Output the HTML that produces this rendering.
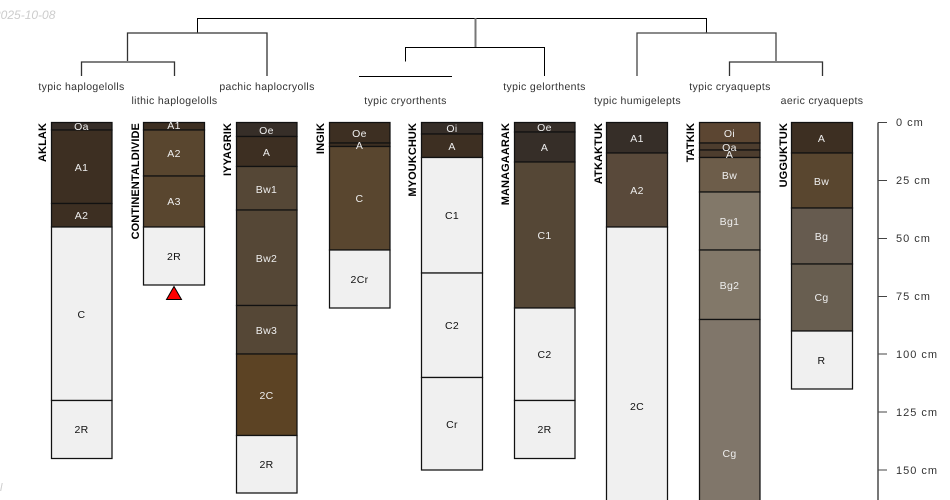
<!DOCTYPE html>
<html><head><meta charset="utf-8"><style>
html,body{margin:0;padding:0;background:#fff}
svg{display:block}
text{font-family:"Liberation Sans",sans-serif;font-size:10.5px}
.h text,text.w{fill:#eee;text-anchor:middle;letter-spacing:.35px}
text.k{fill:#111;text-anchor:middle;letter-spacing:.35px}
text.n{font-weight:bold;font-size:11px;letter-spacing:.1px;fill:#000;text-anchor:end}
text.t{fill:#333;text-anchor:middle;letter-spacing:.35px}
text.a{fill:#333;font-size:11px;letter-spacing:1px}
rect{stroke:#111;stroke-width:1.25}
path{fill:none;stroke:#000;stroke-width:1}
</style></head><body>
<svg xmlns="http://www.w3.org/2000/svg" width="950" height="500" viewBox="0 0 950 500">
<text x="-6" y="19" style="font-style:italic;fill:#ccc;font-size:12px">2025-10-08</text>
<text x="0" y="491" style="font-style:italic;fill:#ccc;font-size:11px">l</text>

<path d="M197.5 32V18.5H706.5V32"/>
<path d="M475.5 18V47" style="stroke:#777;stroke-width:2"/>
<path d="M127.5 61V33H267V76" style="stroke:#333;stroke-width:1.3"/>
<path d="M197.5 32V33" style="stroke:#333"/>
<path d="M81.5 76V62H174.5V76" style="stroke:#333;stroke-width:1.3"/>
<path d="M405.5 61.5V47.5H544.5V76"/>
<path d="M359 76.5H452"/>
<path d="M706.5 32V33M637 76V33H776V61" style="stroke:#444;stroke-width:1.3"/>
<path d="M729.5 76V62H822.5V76" style="stroke:#333;stroke-width:1.3"/>

<g text-rendering="geometricPrecision">
<text class="t" x="81.5" y="90">typic haplogelolls</text>
<text class="t" x="174.5" y="104">lithic haplogelolls</text>
<text class="t" x="267" y="90">pachic haplocryolls</text>
<text class="t" x="405.5" y="104">typic cryorthents</text>
<text class="t" x="544.5" y="90">typic gelorthents</text>
<text class="t" x="637.5" y="104">typic humigelepts</text>
<text class="t" x="730" y="90">typic cryaquepts</text>
<text class="t" x="822" y="104">aeric cryaquepts</text>
</g>

<!-- AKLAK -->
<text class="n" transform="translate(46,123) rotate(-90)">AKLAK</text>
<g class="h">
<rect x="51.5" y="122.5" width="60.5" height="7.5" fill="#362e28"/>
<rect x="51.5" y="130" width="60.5" height="73.5" fill="#3d2f22"/>
<rect x="51.5" y="203.5" width="60.5" height="23.5" fill="#3d2f22"/>
<rect x="51.5" y="227" width="60.5" height="173.5" fill="#f0f0f0"/>
<rect x="51.5" y="400.5" width="60.5" height="58" fill="#f0f0f0"/>
<text x="81.5" y="130">Oa</text><text x="81.5" y="171">A1</text><text x="81.5" y="219">A2</text>
</g>
<text class="k" x="81.5" y="318">C</text><text class="k" x="81.5" y="433">2R</text>

<!-- CONTINENTALDIVIDE -->
<text class="n" transform="translate(139,123) rotate(-90)">CONTINENTALDIVIDE</text>
<g class="h">
<rect x="143.5" y="122.5" width="61" height="7.5" fill="#3d2f22"/>
<rect x="143.5" y="130" width="61" height="46" fill="#59462f"/>
<rect x="143.5" y="176" width="61" height="51" fill="#59462f"/>
<rect x="143.5" y="227" width="61" height="58" fill="#f0f0f0"/>
<text x="174" y="129">A1</text><text x="174" y="157">A2</text><text x="174" y="205">A3</text>
</g>
<text class="k" x="174" y="260">2R</text>
<path d="M166.5 299.5L174 286.5L181.5 299.5Z" style="fill:#f00"/>

<!-- IYYAGRIK -->
<text class="n" transform="translate(231,123) rotate(-90)">IYYAGRIK</text>
<g class="h">
<rect x="236.5" y="122.5" width="60.5" height="14" fill="#362e28"/>
<rect x="236.5" y="136.5" width="60.5" height="30" fill="#3d2f22"/>
<rect x="236.5" y="166.5" width="60.5" height="43.5" fill="#554736"/>
<rect x="236.5" y="210" width="60.5" height="95.5" fill="#554736"/>
<rect x="236.5" y="305.5" width="60.5" height="48.5" fill="#554736"/>
<rect x="236.5" y="354" width="60.5" height="81.5" fill="#5c4324"/>
<rect x="236.5" y="435.5" width="60.5" height="57.5" fill="#f0f0f0"/>
<text x="266.5" y="134">Oe</text><text x="266.5" y="156">A</text><text x="266.5" y="193">Bw1</text><text x="266.5" y="262">Bw2</text><text x="266.5" y="334">Bw3</text><text x="266.5" y="399">2C</text>
</g>
<text class="k" x="266.5" y="468">2R</text>

<!-- INGIK -->
<text class="n" transform="translate(324,123) rotate(-90)">INGIK</text>
<g class="h">
<rect x="329.5" y="122.5" width="60.5" height="20.5" fill="#3d2f22"/>
<rect x="329.5" y="143" width="60.5" height="3.5" fill="#3d2f22"/>
<rect x="329.5" y="146.5" width="60.5" height="103.5" fill="#59462f"/>
<rect x="329.5" y="250" width="60.5" height="58" fill="#f0f0f0"/>
<text x="359.5" y="137">Oe</text><text x="359.5" y="149">A</text><text x="359.5" y="202">C</text>
</g>
<text class="k" x="359.5" y="283">2Cr</text>

<!-- MYOUKCHUK -->
<text class="n" transform="translate(416,123) rotate(-90)">MYOUKCHUK</text>
<g class="h">
<rect x="421.5" y="122.5" width="61" height="11.5" fill="#362e28"/>
<rect x="421.5" y="134" width="61" height="23.5" fill="#3d2f22"/>
<rect x="421.5" y="157.5" width="61" height="115.5" fill="#f0f0f0"/>
<rect x="421.5" y="273" width="61" height="104.5" fill="#f0f0f0"/>
<rect x="421.5" y="377.5" width="61" height="92.5" fill="#f0f0f0"/>
<text x="452" y="132">Oi</text><text x="452" y="150">A</text>
</g>
<text class="k" x="452" y="219">C1</text><text class="k" x="452" y="329">C2</text><text class="k" x="452" y="428">Cr</text>

<!-- MANAGAARAK -->
<text class="n" transform="translate(509,123) rotate(-90)">MANAGAARAK</text>
<g class="h">
<rect x="514.5" y="122.5" width="60.5" height="9.5" fill="#362e28"/>
<rect x="514.5" y="132" width="60.5" height="30" fill="#362e28"/>
<rect x="514.5" y="162" width="60.5" height="146" fill="#554736"/>
<rect x="514.5" y="308" width="60.5" height="92.5" fill="#f0f0f0"/>
<rect x="514.5" y="400.5" width="60.5" height="58" fill="#f0f0f0"/>
<text x="544.5" y="131">Oe</text><text x="544.5" y="151">A</text><text x="544.5" y="239">C1</text>
</g>
<text class="k" x="544.5" y="358">C2</text><text class="k" x="544.5" y="433">2R</text>

<!-- ATKAKTUK -->
<text class="n" transform="translate(602,123) rotate(-90)">ATKAKTUK</text>
<g class="h">
<rect x="606.5" y="122.5" width="61" height="30.5" fill="#362e28"/>
<rect x="606.5" y="153" width="61" height="74" fill="#59493a"/>
<rect x="606.5" y="227" width="61" height="290" fill="#f0f0f0"/>
<text x="637" y="142">A1</text><text x="637" y="194">A2</text>
</g>
<text class="k" x="637" y="410">2C</text>

<!-- TATKIK -->
<text class="n" transform="translate(694,123) rotate(-90)">TATKIK</text>
<g class="h">
<rect x="699.5" y="122.5" width="60.5" height="20.5" fill="#5c4632"/>
<rect x="699.5" y="143" width="60.5" height="7" fill="#4d3d2e"/>
<rect x="699.5" y="150" width="60.5" height="7.5" fill="#4d3d2e"/>
<rect x="699.5" y="157.5" width="60.5" height="34.5" fill="#6d5d4a"/>
<rect x="699.5" y="192" width="60.5" height="58" fill="#827869"/>
<rect x="699.5" y="250" width="60.5" height="69.5" fill="#827869"/>
<rect x="699.5" y="319.5" width="60.5" height="200" fill="#80766a"/>
<text x="729.5" y="137">Oi</text><text x="729.5" y="151">Oa</text><text x="729.5" y="158">A</text><text x="729.5" y="179">Bw</text><text x="729.5" y="225">Bg1</text><text x="729.5" y="289">Bg2</text><text x="729.5" y="457">Cg</text>
</g>

<!-- UGGUKTUK -->
<text class="n" transform="translate(787,123) rotate(-90)">UGGUKTUK</text>
<g class="h">
<rect x="791.5" y="122.5" width="61" height="30.5" fill="#3d2f22"/>
<rect x="791.5" y="153" width="61" height="55" fill="#59462f"/>
<rect x="791.5" y="208" width="61" height="56" fill="#665b4f"/>
<rect x="791.5" y="264" width="61" height="67" fill="#685e50"/>
<rect x="791.5" y="331" width="61" height="58" fill="#f0f0f0"/>
<text x="821.5" y="142">A</text><text x="821.5" y="185">Bw</text><text x="821.5" y="240">Bg</text><text x="821.5" y="301">Cg</text>
</g>
<text class="k" x="821.5" y="364">R</text>

<!-- Axis -->
<path d="M878 122.5V500" style="stroke:#777;stroke-width:2"/>
<path d="M878 122.5H887M878 180.5H887M878 238.5H887M878 296.5H887M878 354H887M878 412H887M878 470H887" style="stroke:#444"/>
<text class="a" x="896" y="126">0 cm</text>
<text class="a" x="896" y="184">25 cm</text>
<text class="a" x="896" y="242">50 cm</text>
<text class="a" x="896" y="300">75 cm</text>
<text class="a" x="896" y="358">100 cm</text>
<text class="a" x="896" y="416">125 cm</text>
<text class="a" x="896" y="474">150 cm</text>
</svg>
</body></html>
